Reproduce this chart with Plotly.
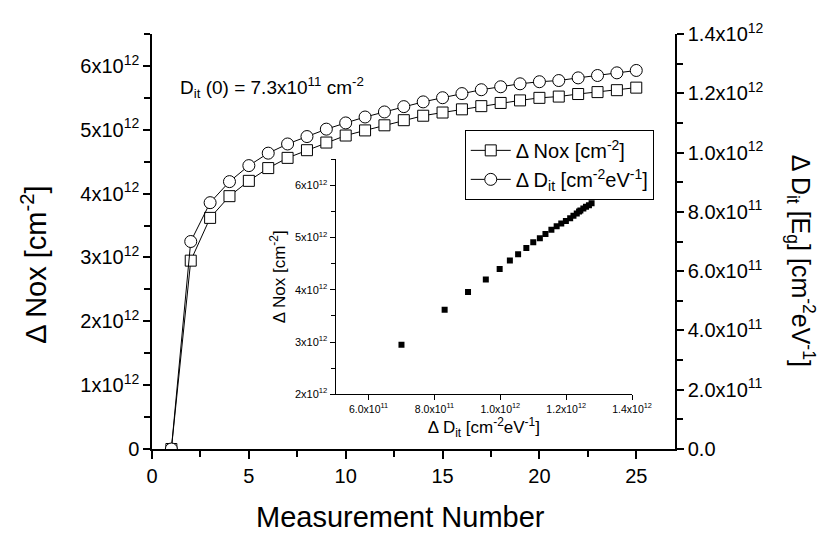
import plotly.graph_objects as go

# ---- data ----
measurement = [1, 2, 3, 4, 5, 6, 7, 8, 9, 10, 11, 12, 13, 14, 15, 16, 17, 18, 19, 20, 21, 22, 23, 24, 25]
delta_nox = [0, 2.95e12, 3.62e12, 3.96e12, 4.20e12, 4.40e12, 4.56e12, 4.68e12, 4.80e12, 4.91e12,
             4.99e12, 5.07e12, 5.15e12, 5.22e12, 5.27e12, 5.32e12, 5.37e12, 5.42e12, 5.46e12, 5.50e12,
             5.52e12, 5.56e12, 5.59e12, 5.62e12, 5.66e12]
delta_dit = [0, 0.700e12, 0.831e12, 0.902e12, 0.956e12, 0.998e12, 1.029e12, 1.054e12, 1.079e12, 1.100e12,
             1.120e12, 1.137e12, 1.155e12, 1.171e12, 1.185e12, 1.199e12, 1.212e12, 1.222e12, 1.232e12, 1.239e12,
             1.243e12, 1.252e12, 1.260e12, 1.269e12, 1.277e12]

left_tickvals = [0, 1e12, 2e12, 3e12, 4e12, 5e12, 6e12]
left_ticktext = ["0", "1x10<sup>12</sup>", "2x10<sup>12</sup>", "3x10<sup>12</sup>",
                 "4x10<sup>12</sup>", "5x10<sup>12</sup>", "6x10<sup>12</sup>"]
right_tickvals = [0, 0.2e12, 0.4e12, 0.6e12, 0.8e12, 1.0e12, 1.2e12, 1.4e12]
right_ticktext = ["0.0", "2.0x10<sup>11</sup>", "4.0x10<sup>11</sup>", "6.0x10<sup>11</sup>",
                  "8.0x10<sup>11</sup>", "1.0x10<sup>12</sup>", "1.2x10<sup>12</sup>", "1.4x10<sup>12</sup>"]
inset_x_tickvals = [6e11, 8e11, 1.0e12, 1.2e12, 1.4e12]
inset_x_ticktext = ["6.0x10<sup>11</sup>", "8.0x10<sup>11</sup>", "1.0x10<sup>12</sup>",
                    "1.2x10<sup>12</sup>", "1.4x10<sup>12</sup>"]
inset_y_tickvals = [2e12, 3e12, 4e12, 5e12, 6e12]
inset_y_ticktext = ["2x10<sup>12</sup>", "3x10<sup>12</sup>", "4x10<sup>12</sup>",
                    "5x10<sup>12</sup>", "6x10<sup>12</sup>"]

FONT = "Liberation Sans, Arial, sans-serif"
W, H = 827, 538
ML, MR, MT, MB = 144, 160, 17, 97

fig = go.Figure()

fig.add_trace(go.Scatter(
    x=measurement, y=delta_nox, mode="lines+markers",
    name="Δ Nox [cm<sup>-2</sup>]",
    line=dict(color="black", width=1),
    marker=dict(symbol="square", size=11, color="white", line=dict(color="black", width=1)),
    xaxis="x", yaxis="y",
))
fig.add_trace(go.Scatter(
    x=measurement, y=delta_dit, mode="lines+markers",
    name="Δ D<sub>it</sub> [cm<sup>-2</sup>eV<sup>-1</sup>]",
    line=dict(color="black", width=1),
    marker=dict(symbol="circle", size=12, color="white", line=dict(color="black", width=1)),
    xaxis="x", yaxis="y2",
))
# inset: ΔNox vs ΔDit
fig.add_trace(go.Scatter(
    x=delta_dit[1:], y=delta_nox[1:], mode="markers", showlegend=False,
    marker=dict(symbol="square", size=6, color="black"),
    xaxis="x4", yaxis="y4",
))

axis_common = dict(showline=True, linecolor="black", showgrid=False, zeroline=False,
                   tickcolor="black", tickfont=dict(family=FONT, size=20, color="black"))

fig.update_layout(
    width=W, height=H,
    margin=dict(l=ML, r=MR, t=MT, b=MB),
    paper_bgcolor="white", plot_bgcolor="white",
    font=dict(family=FONT, color="black"),
    xaxis=dict(range=[0, 27], domain=[0, 1], anchor="y", linewidth=1.5,
               tickmode="linear", tick0=0, dtick=5, ticks="outside", ticklen=8, tickwidth=1.5,
               minor=dict(ticks="outside", tick0=0, dtick=2.5, ticklen=6, tickwidth=1.5, tickcolor="black"),
               **axis_common),
    xaxis3=dict(range=[0, 27], overlaying="x", side="top", anchor="y", linewidth=1.5,
                showline=True, linecolor="black", showgrid=False, zeroline=False,
                showticklabels=False, tickmode="linear", tick0=0, dtick=5,
                ticks="inside", ticklen=8, tickwidth=1.5, tickcolor="black",
                minor=dict(ticks="inside", tick0=0, dtick=2.5, ticklen=6, tickwidth=1.5, tickcolor="black")),
    yaxis=dict(range=[0, 6.5e12], domain=[0, 1], anchor="x", linewidth=1.5,
               tickmode="array", tickvals=left_tickvals, ticktext=left_ticktext,
               ticks="outside", ticklen=7, tickwidth=1.5,
               minor=dict(ticks="outside", tick0=0, dtick=0.5e12, ticklen=6, tickwidth=1.5, tickcolor="black"),
               **axis_common),
    yaxis2=dict(range=[0, 1.4e12], overlaying="y", side="right", anchor="x", linewidth=1.5,
                tickmode="array", tickvals=right_tickvals, ticktext=right_ticktext,
                ticks="outside", ticklen=7, tickwidth=1.5,
                minor=dict(ticks="outside", tick0=0, dtick=0.1e12, ticklen=6, tickwidth=1.5, tickcolor="black"),
                **axis_common),
    xaxis4=dict(domain=[0.351, 0.918], anchor="y4", range=[5e11, 1.4e12],
                showline=True, linecolor="black", linewidth=1, showgrid=False, zeroline=False,
                tickmode="array", tickvals=inset_x_tickvals, ticktext=inset_x_ticktext,
                ticks="outside", ticklen=5, tickwidth=1, tickcolor="black",
                tickfont=dict(family=FONT, size=10.5, color="black"),
                title=dict(text="Δ D<sub>it</sub> [cm<sup>-2</sup>eV<sup>-1</sup>]",
                           font=dict(family=FONT, size=17, color="black"), standoff=5)),
    yaxis4=dict(domain=[0.132, 0.698], anchor="x4", range=[2e12, 6.5e12],
                showline=True, linecolor="black", linewidth=1, showgrid=False, zeroline=False,
                tickmode="array", tickvals=inset_y_tickvals, ticktext=inset_y_ticktext,
                ticks="outside", ticklen=5, tickwidth=1, tickcolor="black",
                minor=dict(ticks="outside", tick0=0, dtick=0.5e12, ticklen=4, tickwidth=1, tickcolor="black"),
                tickfont=dict(family=FONT, size=11, color="black"),
                title=dict(text="Δ Nox [cm<sup>-2</sup>]",
                           font=dict(family=FONT, size=17, color="black"), standoff=4)),
    legend=dict(x=0.598, y=0.769, xanchor="left", yanchor="top",
                bordercolor="black", borderwidth=1, bgcolor="white",
                font=dict(family=FONT, size=20, color="black"),
                tracegroupgap=0, itemwidth=40),
    showlegend=True,
)

fig.add_annotation(text="D<sub>it</sub> (0) = 7.3x10<sup>11</sup> cm<sup>-2</sup>",
                   xref="paper", yref="paper", x=0.05, y=0.870, xanchor="left", yanchor="middle",
                   showarrow=False, font=dict(family=FONT, size=19, color="black"))
fig.add_annotation(text="Measurement Number", xref="paper", yref="paper", x=0.475, y=-0.165,
                   xanchor="center", yanchor="middle", showarrow=False,
                   font=dict(family=FONT, size=29, color="black"))
fig.add_annotation(text="Δ Nox [cm<sup>-2</sup>]", xref="paper", yref="paper", x=-0.225, y=0.445,
                   xanchor="center", yanchor="middle", textangle=-90, showarrow=False,
                   font=dict(family=FONT, size=29, color="black"))
fig.add_annotation(text="Δ D<sub>it</sub> [E<sub>g</sub>] [cm<sup>-2</sup>eV<sup>-1</sup>]",
                   xref="paper", yref="paper", x=1.24, y=0.455,
                   xanchor="center", yanchor="middle", textangle=90, showarrow=False,
                   font=dict(family=FONT, size=25, color="black"))

fig.write_html("out.html")
